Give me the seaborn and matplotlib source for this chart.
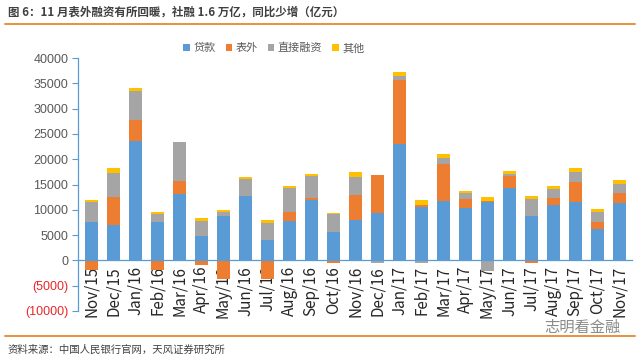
import numpy as np
import pandas as pd
import matplotlib
matplotlib.use("Agg")
import matplotlib.pyplot as plt
import seaborn as sns

# ---------- data (亿元) ----------
months = ["Nov/15", "Dec/15", "Jan/16", "Feb/16", "Mar/16", "Apr/16", "May/16",
          "Jun/16", "Jul/16", "Aug/16", "Sep/16", "Oct/16", "Nov/16", "Dec/16",
          "Jan/17", "Feb/17", "Mar/17", "Apr/17", "May/17", "Jun/17", "Jul/17",
          "Aug/17", "Sep/17", "Oct/17", "Nov/17"]

loans = [7630, 7030, 23560, 7500, 13140, 4780, 8690, 12800, 3980, 7760, 11880,
         5510, 7900, 9420, 23030, 10550, 11750, 10290, 11480, 14400, 8690,
         10950, 11480, 6300, 11350]
off_bs = [-2000, 5440, 4250, -1850, 2650, -900, -3750, -200, -3600, 1860, 400,
          -500, 4970, 7370, 12670, 460, 7360, 1790, 300, 2320, -600,
          1390, 4110, 1190, 1920]
direct = [3850, 4850, 5770, 1660, 7570, 3050, 800, 3390, 3320, 4650, 4310,
          3580, 3650, -550, 860, -500, 1130, 1330, -2050, 270, 3520,
          1730, 1790, 2060, 1860]
other = [500, 860, 600, 400, 150, 470, 460, 270, 660, 460, 530,
         330, 860, 0, 730, 860, 860, 400, 690, 730, 460,
         600, 800, 660, 730]

series_names = ["贷款", "表外", "直接融资", "其他"]
series_vals = [loans, off_bs, direct, other]
series_colors = ["#5B9BD5", "#ED7D31", "#A5A5A5", "#FFC000"]

title = "图 6：11 月表外融资有所回暖，社融 1.6 万亿，同比少增（亿元）"
source = "资料来源：中国人民银行官网，天风证券研究所"

# ---------- figure ----------
sns.set_theme(style="white")
plt.rcParams["font.family"] = ["Noto Sans CJK SC", "DejaVu Sans"]

fig = plt.figure(figsize=(6.4, 3.59), dpi=100)
ax = fig.add_axes([0.122, 0.134, 0.866, 0.704])

# stacked bars: positives pile up from 0, negatives pile down from 0
pos_base = np.zeros(len(months))
neg_base = np.zeros(len(months))
for name, vals, col in zip(series_names, series_vals, series_colors):
    v = np.array(vals, dtype=float)
    bottom = np.where(v >= 0, pos_base, neg_base)
    df = pd.DataFrame({"month": months, "value": v})
    sns.barplot(data=df, x="month", y="value", order=months, color=col,
                width=0.6, bottom=bottom, ax=ax, label=name, errorbar=None,
                saturation=1, linewidth=0)
    pos_base = pos_base + np.clip(v, 0, None)
    neg_base = neg_base + np.clip(v, None, 0)

handles, labels = ax.get_legend_handles_labels()
if ax.get_legend() is not None:
    ax.get_legend().remove()

ax.set_xlim(-0.6, len(months) - 0.4)
ax.set_ylim(-10000, 40000)
yt = list(range(-10000, 40001, 5000))
ax.set_yticks(yt)
ax.set_yticklabels([f"({abs(t)})" if t < 0 else f"{t}" for t in yt])

ax.set_xlabel("")
ax.set_ylabel("")
ax.set_xticks(range(len(months)))
ax.set_xticklabels(months)
ax.set_xticks(np.arange(-0.5, len(months), 1), minor=True)
ax.tick_params(axis="x", which="major", length=0, pad=4, labelrotation=90)
ax.tick_params(axis="x", which="minor", length=4, color="#5B9BD5", width=0.8)
ax.tick_params(axis="y", length=4, color="#5B9BD5", width=0.8, left=True, pad=3)

for lbl in ax.get_xticklabels():
    lbl.set_fontsize(8.5)
    lbl.set_color("#595959")
    lbl.set_family(["Liberation Sans", "DejaVu Sans"])
for lbl, t in zip(ax.get_yticklabels(), yt):
    lbl.set_fontsize(9)
    lbl.set_family(["Liberation Sans", "DejaVu Sans"])
    lbl.set_color("#E8262A" if t < 0 else "#595959")

for s in ["top", "right"]:
    ax.spines[s].set_visible(False)
ax.spines["bottom"].set_position(("data", 0))
ax.spines["bottom"].set_color("#5B9BD5")
ax.spines["left"].set_color("#5B9BD5")
ax.spines["bottom"].set_linewidth(0.9)
ax.spines["left"].set_linewidth(0.9)

leg = fig.legend(handles, labels, loc="center", bbox_to_anchor=(0.428, 0.866),
                 ncol=4, frameon=False, fontsize=8, handlelength=0.6,
                 handleheight=0.6, handletextpad=0.3, columnspacing=0.9)
for t in leg.get_texts():
    t.set_color("#595959")

# title, rules, source, watermark
fig.text(0.012, 0.965, title, fontsize=8.3, fontweight="bold", color="#404040",
         va="center", ha="left")
fig.add_artist(plt.Line2D([0.008, 0.992], [0.933, 0.933], color="#E8923F",
                          linewidth=1.4))
fig.add_artist(plt.Line2D([0.008, 0.992], [0.064, 0.064], color="#E8923F",
                          linewidth=1.4))
fig.text(0.012, 0.026, source, fontsize=7.5, color="#404040", va="center")
fig.text(0.97, 0.088, "志明看金融", fontsize=11, color="#8A8A8A", ha="right",
         va="center")

fig.savefig("out.png", dpi=100)
